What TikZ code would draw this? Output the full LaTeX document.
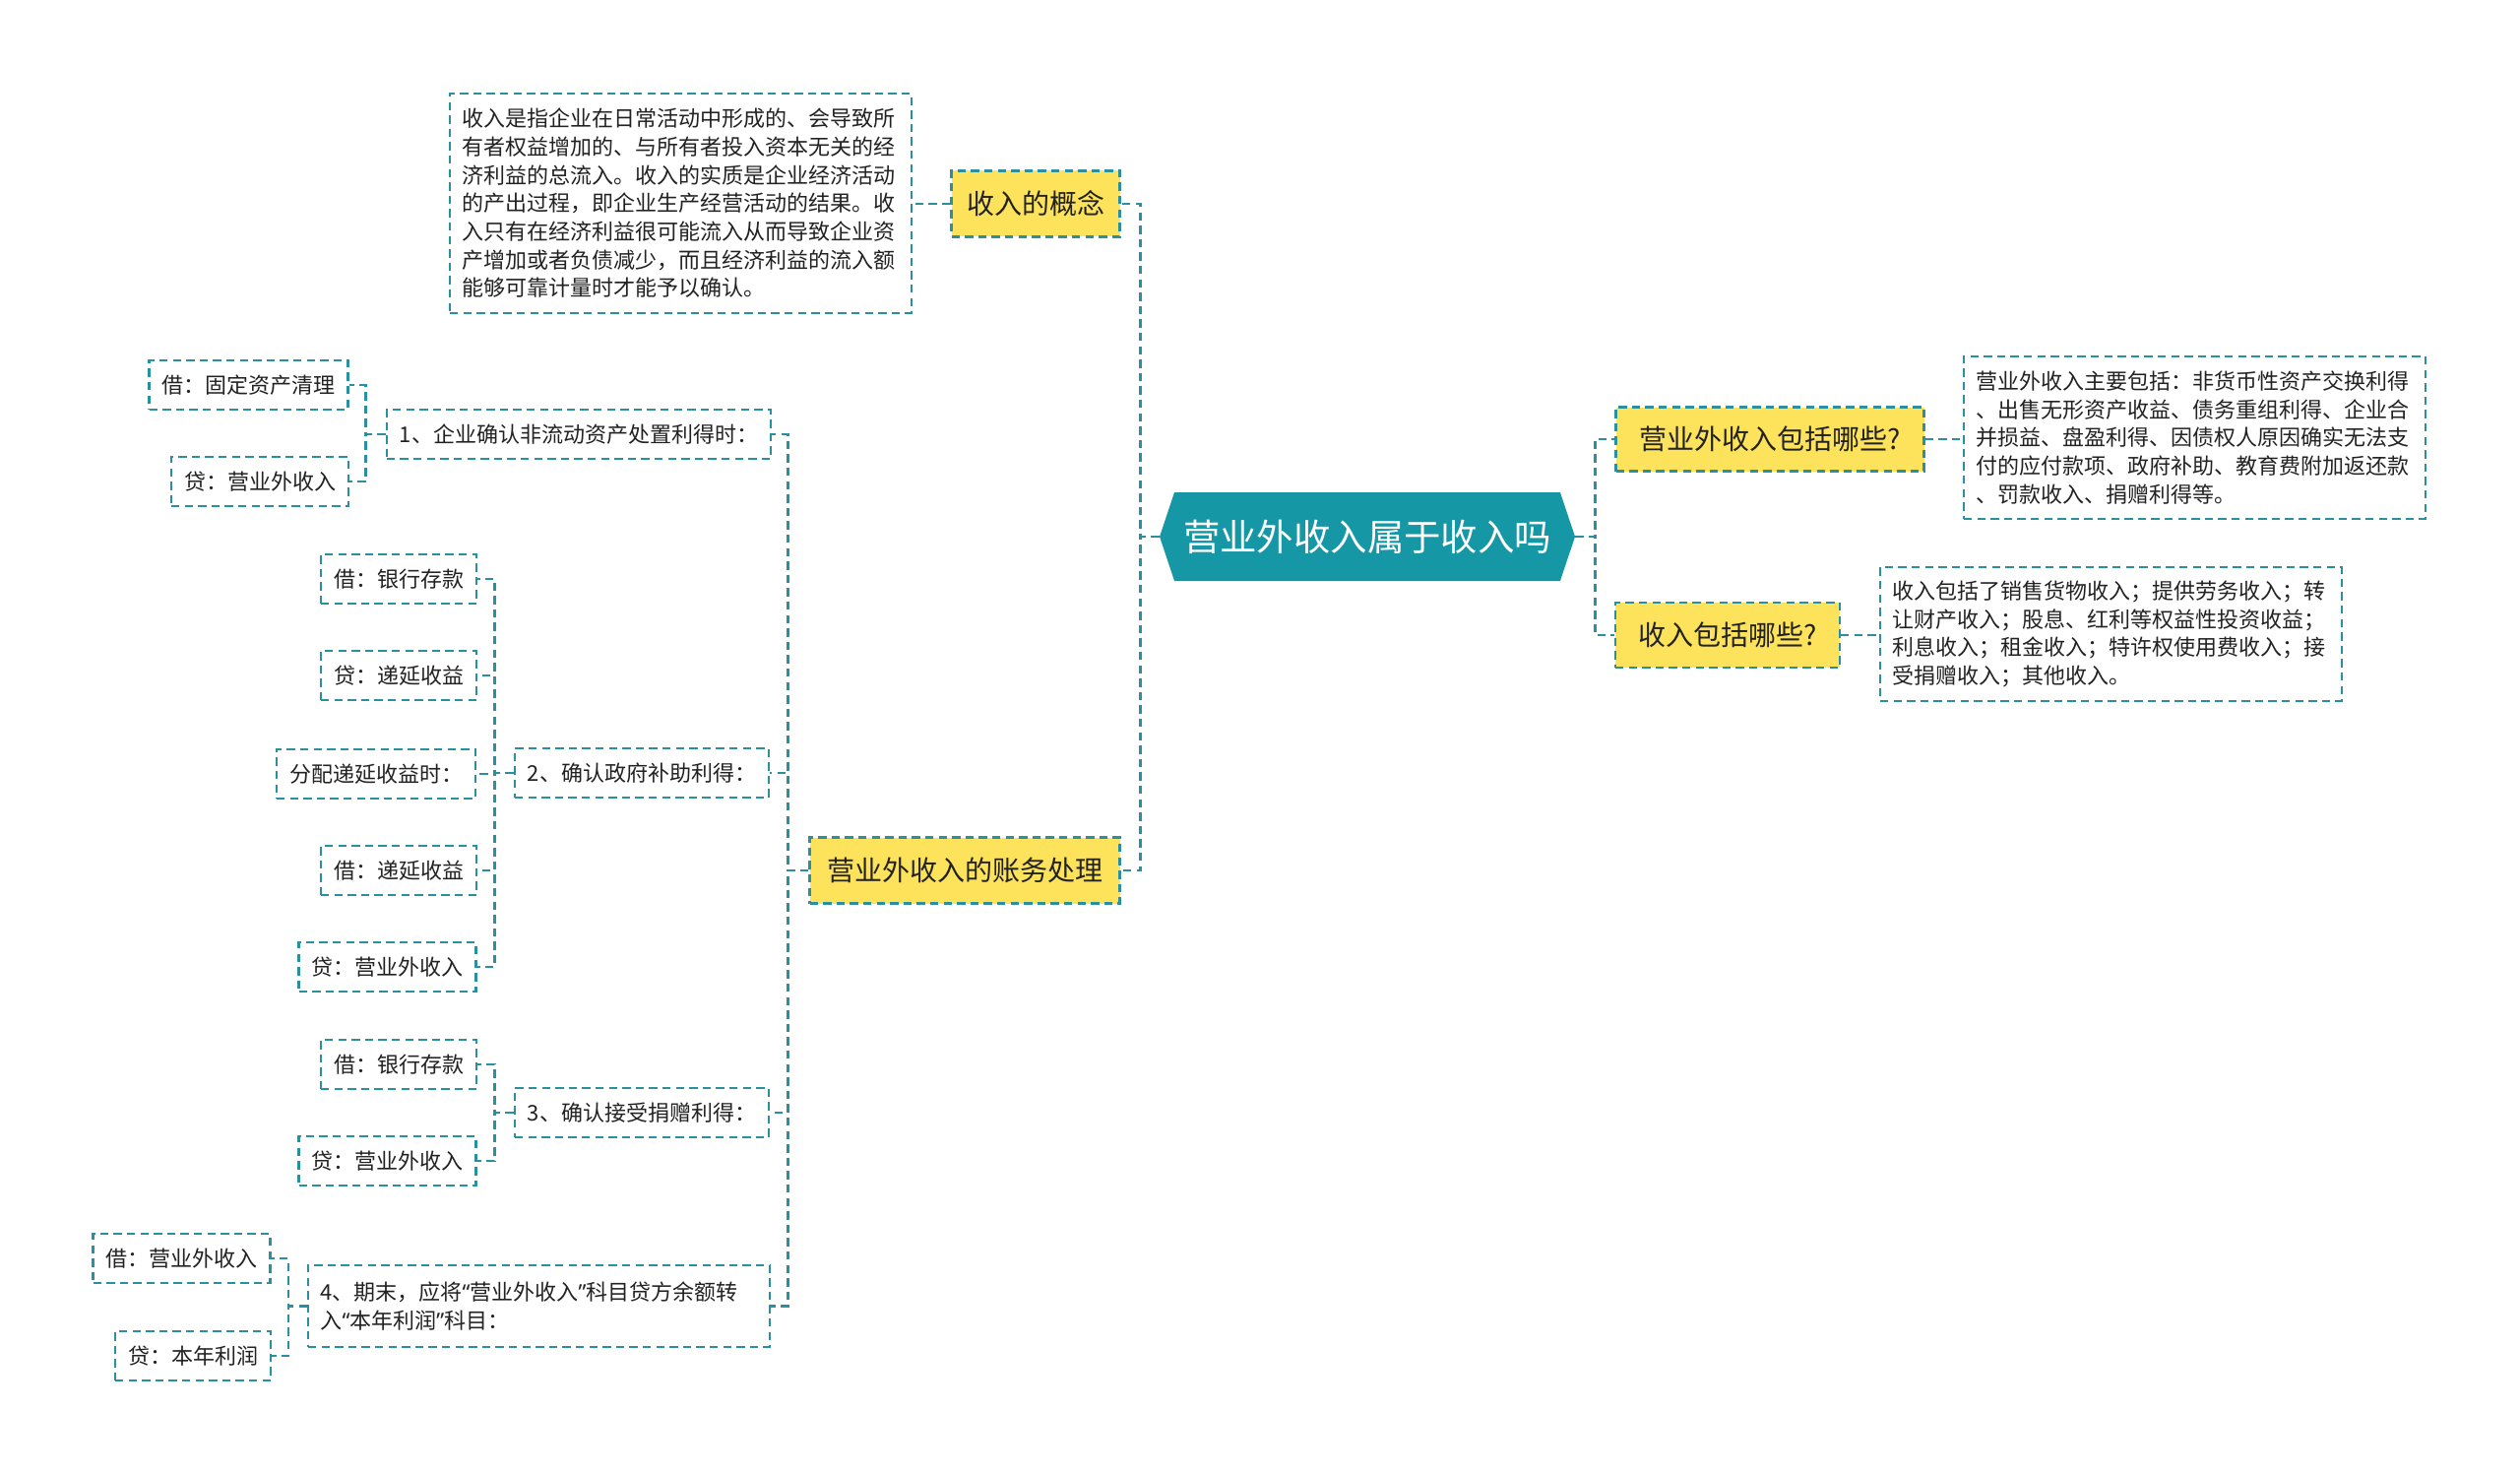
\documentclass[tikz,border=0pt]{standalone}
\usepackage{fontspec}
\setmainfont{Noto Sans CJK SC}
\newfontfamily\latinq{Noto Sans}
\usetikzlibrary{shapes.symbols}
\definecolor{hubfill}{HTML}{1597A6}
\definecolor{linec}{HTML}{2A8F9E}
\definecolor{yel}{HTML}{FDE25B}
\definecolor{txt}{HTML}{222222}
\newcommand{\myLq}{{\latinq “}}
\newcommand{\myRq}{{\latinq ”}}
\begin{document}
\begin{tikzpicture}[x=0.5pt,y=-0.5pt,
  dsh/.style={dash pattern=on 4.2pt off 2.6pt},
  conn/.style={draw=linec, line width=1.4pt, dsh},
  boxd/.style={draw=linec, line width=1.05pt, dsh},
  small/.style={font=\fontsize{11}{14.35}\selectfont},
  leaf/.style={boxd, fill=white, small, align=left, text width=222pt, inner xsep=6.25pt, inner ysep=0pt, text=txt},
  item/.style={boxd, fill=white, small, inner xsep=6.5pt, inner ysep=0pt, minimum height=25pt, text=txt},
  ynode/.style={boxd, fill=yel, font=\fontsize{14}{17}\selectfont, inner sep=0pt, text=txt},
  hub/.style={shape=signal, signal to=west and east, signal pointer angle=143, fill=hubfill, draw=none, text=white, font=\fontsize{18.7}{22}\selectfont, inner xsep=2pt, inner ysep=0pt, minimum width=211pt, minimum height=45pt}
]
\useasboundingbox (0,0) rectangle (2560,1498);
\fill[white] (0,0) rectangle (2560,1498);

% hub
\node[hub] (c) at (1389,545) {营业外收入属于收入吗};

% first level
\node[ynode, minimum width=85.5pt, minimum height=33.5pt] (n1) at (1052,207) {收入的概念};
\node[ynode, minimum width=156.5pt, minimum height=32.5pt] (n2) at (1798,446) {营业外收入包括哪些?};
\node[ynode, minimum width=114pt, minimum height=33pt] (n3) at (1755,645) {收入包括哪些?};
\node[ynode, minimum width=157.5pt, minimum height=33.5pt] (n4) at (980,884) {营业外收入的账务处理};

% leaves
\node[leaf, minimum height=111.5pt] (L1) at (691.5,206.5) {收入是指企业在日常活动中形成的、会导致所\\有者权益增加的、与所有者投入资本无关的经\\济利益的总流入。收入的实质是企业经济活动\\的产出过程，即企业生产经营活动的结果。收\\入只有在经济利益很可能流入从而导致企业资\\产增加或者负债减少，而且经济利益的流入额\\能够可靠计量时才能予以确认。};
\node[leaf, minimum height=82.5pt] (L2) at (2229.5,444.5) {营业外收入主要包括：非货币性资产交换利得\\、出售无形资产收益、债务重组利得、企业合\\并损益、盘盈利得、因债权人原因确实无法支\\付的应付款项、政府补助、教育费附加返还款\\、罚款收入、捐赠利得等。};
\node[leaf, minimum height=68pt] (L3) at (2144.5,644) {收入包括了销售货物收入；提供劳务收入；转\\让财产收入；股息、红利等权益性投资收益；\\利息收入；租金收入；特许权使用费收入；接\\受捐赠收入；其他收入。};

% second level (left)
\node[item] (A1) at (588,441) {1、企业确认非流动资产处置利得时：};
\node[item] (A2) at (652,785) {2、确认政府补助利得：};
\node[item] (A3) at (652,1130) {3、确认接受捐赠利得：};
\node[leaf, minimum height=41.5pt] (A4) at (547.5,1326.5) {4、期末，应将\myLq 营业外收入\myRq 科目贷方余额转\\入\myLq 本年利润\myRq 科目：};

% third level
\node[item] (B1) at (252.5,391) {借：固定资产清理};
\node[item] (B2) at (264,489) {贷：营业外收入};
\node[item] (C1) at (405,588) {借：银行存款};
\node[item] (C2) at (405,686) {贷：递延收益};
\node[item] (C3) at (382,786) {分配递延收益时：};
\node[item] (C4) at (405,884) {借：递延收益};
\node[item] (C5) at (393.5,982) {贷：营业外收入};
\node[item] (D1) at (405,1081) {借：银行存款};
\node[item] (D2) at (393.5,1179) {贷：营业外收入};
\node[item] (E1) at (184.5,1278) {借：营业外收入};
\node[item] (E2) at (196,1377) {贷：本年利润};

% connectors
\draw[conn] (c.west) -- ++(-19,0) |- (n1.east);
\draw[conn] (c.west) -- ++(-19,0) |- (n4.east);
\draw[conn] (c.east) -- ++(20,0) |- (n2.west);
\draw[conn] (c.east) -- ++(20,0) |- (n3.west);

\draw[conn] (n1.west) -- (L1.east |- n1.west);
\draw[conn] (n2.east) -- (L2.west |- n2.east);
\draw[conn] (n3.east) -- (L3.west |- n3.east);

\foreach \t in {A1,A2,A3,A4} \draw[conn] (n4.west) -- ++(-21,0) |- (\t.east);
\foreach \t in {B1,B2} \draw[conn] (A1.west) -- ++(-20,0) |- (\t.east);
\foreach \t in {C1,C2,C3,C4,C5} \draw[conn] (A2.west) -- ++(-19,0) |- (\t.east);
\foreach \t in {D1,D2} \draw[conn] (A3.west) -- ++(-19,0) |- (\t.east);
\foreach \t in {E1,E2} \draw[conn] (A4.west) -- ++(-19,0) |- (\t.east);
\end{tikzpicture}
\end{document}
